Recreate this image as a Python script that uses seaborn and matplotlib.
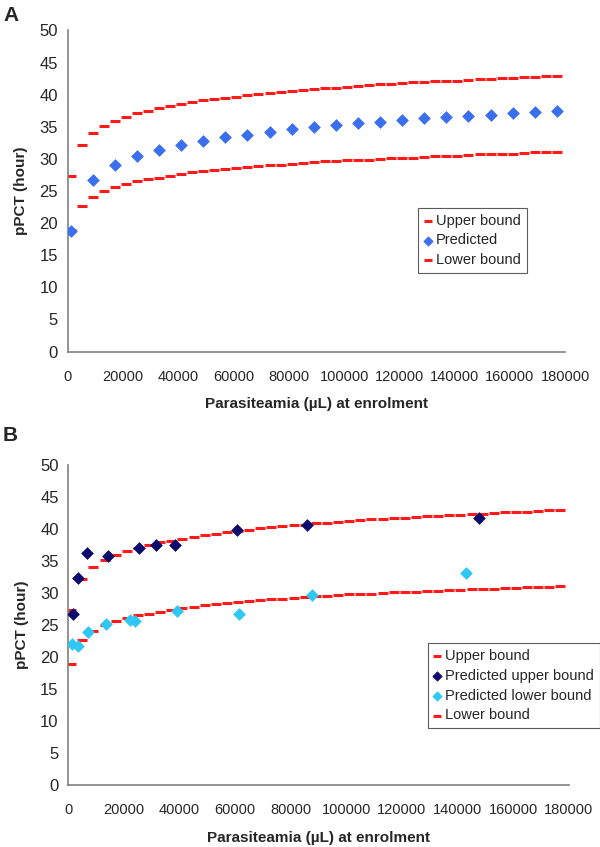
import pandas as pd
import matplotlib
matplotlib.use("Agg")
import matplotlib.pyplot as plt
import seaborn as sns

# bound curves (same in both panels), read every 4000 parasites/uL
bound_x = [1000, 5000, 9000, 13000, 17000, 21000, 25000, 29000, 33000, 37000,
           41000, 45000, 49000, 53000, 57000, 61000, 65000, 69000, 73000, 77000,
           81000, 85000, 89000, 93000, 97000, 101000, 105000, 109000, 113000, 117000,
           121000, 125000, 129000, 133000, 137000, 141000, 145000, 149000, 153000, 157000,
           161000, 165000, 169000, 173000, 177000]
upper_bound = [27.4, 32.2, 34.0, 35.1, 35.9, 36.5, 37.1, 37.5, 37.9, 38.2,
               38.5, 38.8, 39.1, 39.3, 39.5, 39.7, 39.9, 40.1, 40.3, 40.4,
               40.6, 40.7, 40.9, 41.0, 41.1, 41.2, 41.4, 41.5, 41.6, 41.7,
               41.8, 41.9, 42.0, 42.1, 42.2, 42.2, 42.3, 42.4, 42.5, 42.6,
               42.6, 42.7, 42.8, 42.9, 42.9]
lower_bound = [19.0, 22.7, 24.1, 25.0, 25.6, 26.1, 26.5, 26.8, 27.1, 27.4,
               27.7, 27.9, 28.1, 28.3, 28.4, 28.6, 28.7, 28.9, 29.0, 29.1,
               29.2, 29.4, 29.5, 29.6, 29.7, 29.8, 29.8, 29.9, 30.0, 30.1,
               30.2, 30.2, 30.3, 30.4, 30.5, 30.5, 30.6, 30.7, 30.7, 30.8,
               30.8, 30.9, 31.0, 31.0, 31.1]

# panel A predicted
pred_x = [1000, 9000, 17000, 25000, 33000, 41000, 49000, 57000, 65000, 73000,
          81000, 89000, 97000, 105000, 113000, 121000, 129000, 137000, 145000,
          153000, 161000, 169000, 177000]
pred_y = [18.8, 26.7, 29.0, 30.4, 31.4, 32.2, 32.8, 33.4, 33.8, 34.2,
          34.6, 35.0, 35.3, 35.6, 35.8, 36.1, 36.3, 36.5, 36.7,
          36.9, 37.1, 37.3, 37.4]

# panel B predictions
pu_x = [1800, 3300, 6800, 14400, 25400, 31400, 38400, 60800, 85800, 147700]
pu_y = [26.7, 32.4, 36.2, 35.8, 37.1, 37.5, 37.5, 39.8, 40.7, 41.8]
pl_x = [1200, 3400, 7200, 13600, 22000, 24000, 39200, 61400, 87800, 143100]
pl_y = [22.0, 21.7, 23.9, 25.2, 25.8, 25.6, 27.2, 26.8, 29.7, 33.1]

xticks = [0, 20000, 40000, 60000, 80000, 100000, 120000, 140000, 160000, 180000]
yticks = [0, 5, 10, 15, 20, 25, 30, 35, 40, 45, 50]

sns.set_style("white")
plt.rcParams['font.family'] = ['Liberation Sans', 'DejaVu Sans']

RED = '#ff1a1a'
BLUE = '#3b6ff0'
NAVY = '#0b0b6e'
CYAN = '#2fc8f5'

bounds = pd.DataFrame({'x': bound_x, 'upper': upper_bound, 'lower': lower_bound})

fig = plt.figure(figsize=(6, 8.47), dpi=100)
axA = fig.add_axes([0.113, 0.585, 0.829, 0.379])
axB = fig.add_axes([0.114, 0.073, 0.834, 0.378])


def style_axis(ax):
    ax.set_xlim(0, 180000)
    ax.set_ylim(0, 50)
    ax.set_xticks(xticks)
    ax.set_xticklabels([str(t) for t in xticks], fontsize=10.5)
    ax.set_yticks(yticks)
    ax.set_yticklabels([str(t) for t in yticks], fontsize=12)
    for s in ['top', 'right']:
        ax.spines[s].set_visible(False)
    for s in ['left', 'bottom']:
        ax.spines[s].set_color('#808080')
        ax.spines[s].set_linewidth(1.2)
    ax.tick_params(axis='both', direction='out', length=4, width=1, color='#808080', pad=3)
    ax.tick_params(axis='x', pad=9)
    ax.set_xlabel('Parasiteamia (\u00b5L) at enrolment', fontsize=11, fontweight='bold', labelpad=10)
    ax.set_ylabel('pPCT (hour)', fontsize=11, fontweight='bold', labelpad=8)
    ax.grid(False)


def draw_bound(ax, col, label):
    sns.scatterplot(data=bounds, x='x', y=col, marker='_', s=45, linewidth=2.2,
                    color=RED, ax=ax, label=label, zorder=2)


def make_legend(ax, anchor):
    leg = ax.legend(loc='upper left', bbox_to_anchor=anchor, fontsize=10.5,
                    frameon=True, fancybox=False, handlelength=0.5, handletextpad=0.3,
                    borderpad=0.4, labelspacing=0.4, markerscale=0.8, borderaxespad=0)
    leg.get_frame().set_edgecolor('#333333')
    leg.get_frame().set_linewidth(0.8)


# Panel A
draw_bound(axA, 'upper', 'Upper bound')
sns.scatterplot(x=pred_x, y=pred_y, marker='D', s=36, color=BLUE, edgecolor=BLUE,
                ax=axA, label='Predicted', zorder=3)
draw_bound(axA, 'lower', 'Lower bound')
style_axis(axA)
make_legend(axA, (0.705, 0.448))

# Panel B
draw_bound(axB, 'upper', 'Upper bound')
sns.scatterplot(x=pu_x, y=pu_y, marker='D', s=36, color=NAVY, edgecolor=NAVY,
                ax=axB, label='Predicted upper bound', zorder=3)
sns.scatterplot(x=pl_x, y=pl_y, marker='D', s=36, color=CYAN, edgecolor=CYAN,
                ax=axB, label='Predicted lower bound', zorder=3)
draw_bound(axB, 'lower', 'Lower bound')
style_axis(axB)
make_legend(axB, (0.718, 0.444))

fig.text(0.005, 0.993, 'A', fontsize=15, fontweight='bold', va='top', ha='left')
fig.text(0.005, 0.497, 'B', fontsize=15, fontweight='bold', va='top', ha='left')

fig.savefig('out.png', dpi=100)
